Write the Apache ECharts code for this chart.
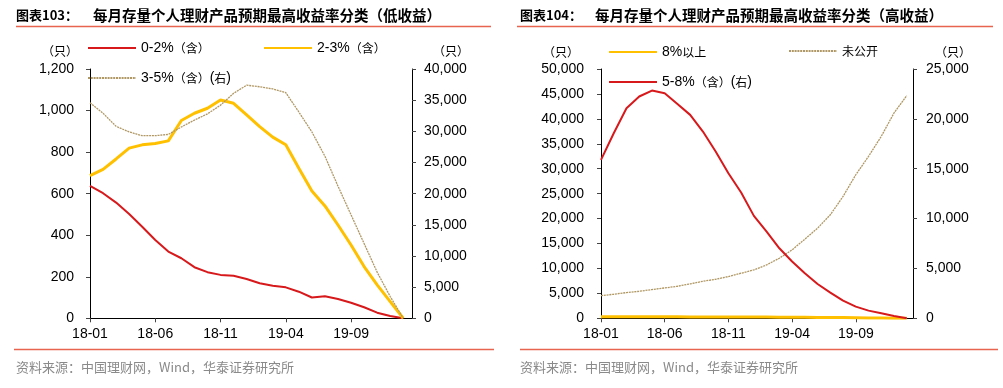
<!DOCTYPE html>
<html><head><meta charset="utf-8">
<script src="https://cdn.jsdelivr.net/npm/echarts@6/dist/echarts.min.js"></script>
<style>html,body{margin:0;padding:0;background:#fff}#c{width:1003px;height:388px}</style>
</head><body><div id="c"></div>
<script>
// ---- data ----
const months = ['18-01','18-02','18-03','18-04','18-05','18-06','18-07','18-08','18-09','18-10','18-11','18-12',
                '19-01','19-02','19-03','19-04','19-05','19-06','19-07','19-08','19-09','19-10','19-11','19-12','20-01'];
const xTickIdx = [0,5,10,15,20];

const lowName02 = '0-2%（含）';
const lowName23 = '2-3%（含）';
const lowName35 = '3-5%（含）(右)';
const low02 = [637,602,557,502,441,377,321,289,246,222,209,205,189,169,157,149,128,100,106,93,75,53,27,11,0];
const low23 = [687,717,767,819,835,841,854,952,987,1011,1051,1035,979,923,872,835,722,613,541,449,353,249,161,80,0];
const low35 = [34600,32900,30800,29900,29300,29300,29500,30700,31800,32800,34200,36100,37400,37150,36800,36200,33100,29900,26000,21200,16600,12000,7400,3500,0];

const highName8 = '8%以上';
const highNameNA = '未公开';
const highName58 = '5-8%（含）(右)';
const high8 = [320,315,310,305,300,295,290,285,280,275,270,260,250,240,230,215,200,185,165,140,115,85,55,25,0];
const highNA = [4550,4820,5160,5420,5760,6090,6430,6900,7430,7830,8370,9040,9710,10710,12050,13730,15870,18080,20760,24440,28790,32480,36490,41180,44660];
const high58 = [15880,18560,21070,22240,22840,22570,21500,20400,18730,16720,14550,12610,10270,8690,7020,5690,4510,3440,2580,1770,1170,770,500,230,0];

const title1Head = '图表103：', title1Body = '每月存量个人理财产品预期最高收益率分类（低收益）';
const title2Head = '图表104：', title2Body = '每月存量个人理财产品预期最高收益率分类（高收益）';
const sourceText = '资料来源：中国理财网，Wind，华泰证券研究所';
const unitText = '（只）';

// ---- styles ----
const RED = '#D7191C', GOLD = '#FFC000', TAN = '#B09864', ACC = '#E8644F';
const LAT = 'Liberation Sans, Arial, sans-serif';
const CJK = 'Noto Sans CJK SC, sans-serif';
const fmt = v => String(v).replace(/\B(?=(\d{3})+(?!\d))/g, ',');
const pairs = arr => arr.map((v, i) => [i, v]);
function richName(name) {
  return name.replace(/([\u3000-\u303f\u4e00-\u9fff\uff00-\uffef]+)|([^\u3000-\u303f\u4e00-\u9fff\uff00-\uffef]+)/g,
    (m, c, l) => c ? '{c|' + c + '}' : '{l|' + l + '}');
}
const legendRich = { l: { fontFamily: LAT, fontSize: 14, color: '#000' }, c: { fontFamily: CJK, fontSize: 12, color: '#000' } };
function legend(name, left, cy) {
  return { data: [name], left: left, top: cy - 7, itemWidth: 48, itemHeight: 14, itemGap: 5, padding: 0,
    itemStyle: { opacity: 0, borderWidth: 0 },
    formatter: richName, textStyle: { rich: legendRich }, selectedMode: false };
}
function xAxis(gi, max) {
  return { type: 'value', gridIndex: gi, min: 0, max: max,
    axisLine: { show: true, lineStyle: { color: '#000', width: 1 } },
    axisTick: { show: true, length: 4, lineStyle: { color: '#444' }, customValues: xTickIdx },
    axisLabel: { customValues: xTickIdx, formatter: v => months[v] || '', fontFamily: LAT, fontSize: 14, color: '#000', margin: 9 },
    splitLine: { show: false } };
}
function yAxis(gi, pos, max, interval, margin) {
  return { type: 'value', gridIndex: gi, position: pos, min: 0, max: max, interval: interval,
    axisLine: { show: true, lineStyle: { color: '#000', width: 1 } },
    axisTick: { show: true, length: 4, lineStyle: { color: '#444' } },
    axisLabel: { formatter: fmt, fontFamily: LAT, fontSize: 14, color: '#000', margin: margin },
    splitLine: { show: false } };
}
function line(name, data, xi, yi, color, width, type) {
  return { type: 'line', name: name, data: pairs(data), xAxisIndex: xi, yAxisIndex: yi, symbol: 'none', showSymbol: false,
    lineStyle: { color: color, width: width, type: type || 'solid' }, itemStyle: { color: color }, z: 3, silent: true, animation: false };
}
function text(x, y, str, style) {
  return { type: 'text', x: x, y: y, style: Object.assign({ text: str, textVerticalAlign: 'middle', verticalAlign: 'middle' }, style) };
}
function hline(x1, x2, y) {
  return { type: 'line', shape: { x1: x1, y1: y, x2: x2, y2: y }, style: { stroke: ACC, lineWidth: 1.5 } };
}

const chart = echarts.init(document.getElementById('c'), null, { renderer: 'canvas' });
chart.setOption({
  animation: false,
  backgroundColor: '#fff',
  grid: [
    { left: 90, top: 69, width: 322, height: 249.3 },
    { left: 601, top: 69, width: 312, height: 249.3 }
  ],
  xAxis: [xAxis(0, 24.67), xAxis(1, 24.49)],
  yAxis: [
    yAxis(0, 'left', 1200, 200, 16),
    yAxis(0, 'right', 40000, 5000, 12),
    yAxis(1, 'left', 50000, 5000, 17),
    yAxis(1, 'right', 25000, 5000, 13)
  ],
  legend: [
    legend(lowName02, 87, 48), legend(lowName23, 263, 48), legend(lowName35, 87, 78),
    legend(highName8, 608, 52), legend(highNameNA, 788, 52), legend(highName58, 608, 82)
  ],
  series: [
    line(lowName02, low02, 0, 0, RED, 2),
    line(lowName23, low23, 0, 0, GOLD, 3),
    line(lowName35, low35, 0, 1, TAN, 1.3, [2, 0.8]),
    line(highName8, high8, 1, 2, GOLD, 3),
    line(highNameNA, highNA, 1, 2, TAN, 1.3, [2, 0.8]),
    line(highName58, high58, 1, 3, RED, 2)
  ],
  graphic: [
    text(16, 15, title1Head, { font: 'bold 13px ' + CJK, fill: '#000' }),
    text(93, 15, title1Body, { font: 'bold 14.5px ' + CJK, fill: '#000' }),
    text(520, 15, title2Head, { font: 'bold 13px ' + CJK, fill: '#000' }),
    text(595, 15, title2Body, { font: 'bold 14.5px ' + CJK, fill: '#000' }),
    hline(16, 491, 26.5), hline(517, 993, 26.5),
    hline(14, 494, 349.5), hline(520, 998, 349.5),
    text(16, 367, sourceText, { font: '13px ' + CJK, fill: '#8A8A8A' }),
    text(520, 367, sourceText, { font: '13px ' + CJK, fill: '#8A8A8A' }),
    text(60, 51, unitText, { font: '12px ' + CJK, fill: '#000', align: 'center', textAlign: 'center' }),
    text(451, 51, unitText, { font: '12px ' + CJK, fill: '#000', align: 'center', textAlign: 'center' }),
    text(561, 52, unitText, { font: '12px ' + CJK, fill: '#000', align: 'center', textAlign: 'center' }),
    text(953, 52, unitText, { font: '12px ' + CJK, fill: '#000', align: 'center', textAlign: 'center' })
  ]
});
</script></body></html>
